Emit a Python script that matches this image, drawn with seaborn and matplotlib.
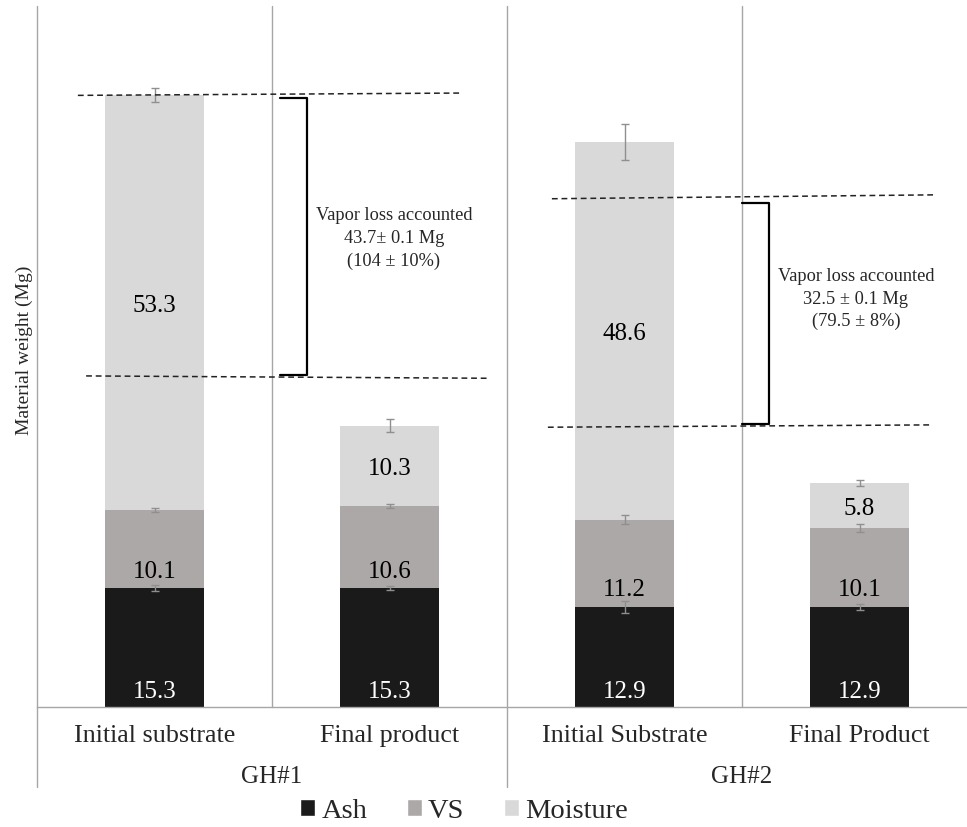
import matplotlib
matplotlib.use("Agg")
import matplotlib.pyplot as plt
import matplotlib.transforms as mtransforms
from matplotlib.patches import Patch
import numpy as np
import pandas as pd
import seaborn as sns

# Material balance per greenhouse (Mg)
samples = ["Initial substrate", "Final product", "Initial Substrate", "Final Product"]
groups = ["GH#1", "GH#2"]
ash = [15.3, 15.3, 12.9, 12.9]
vs = [10.1, 10.6, 11.2, 10.1]
moisture = [53.3, 10.3, 48.6, 5.8]
ash_err = [0.39, 0.28, 0.77, 0.37]
vs_err = [0.26, 0.24, 0.56, 0.5]
moisture_err = [0.9, 0.85, 2.3, 0.37]
vapor_notes = ["Vapor loss accounted\n43.7\u00b1 0.1 Mg\n(104 \u00b1 10%)",
               "Vapor loss accounted\n32.5 \u00b1 0.1 Mg\n(79.5 \u00b1 8%)"]

sns.set_theme(style="white")
plt.rcParams["font.family"] = ["Liberation Serif", "DejaVu Serif"]

C_ASH, C_VS, C_MOIST = "#1a1a1a", "#aca8a7", "#d9d9d9"
FRAME = "#a6a6a6"

df = pd.DataFrame({"sample": samples, "ash": ash, "vs": vs, "moisture": moisture})
df["ash_vs"] = df["ash"] + df["vs"]
df["total"] = df["ash_vs"] + df["moisture"]

W, H = 967, 828
fig = plt.figure(figsize=(W / 100, H / 100), dpi=100)
ax = fig.add_axes([37 / W, 120 / H, 940 / W, 701 / H])

bw = 0.4255
# stacked bars: draw cumulative heights from the top layer down
for col, c in [("total", C_MOIST), ("ash_vs", C_VS), ("ash", C_ASH)]:
    sns.barplot(data=df, x="sample", y=col, order=samples, color=c, width=bw,
                saturation=1, errorbar=None, linewidth=0, ax=ax)

xs = np.arange(len(samples))
for top, err in [(df["ash"], ash_err), (df["ash_vs"], vs_err), (df["total"], moisture_err)]:
    ax.errorbar(xs, top, yerr=err, fmt="none", ecolor="#8f8f8f", elinewidth=1.0,
                capsize=3.2, capthick=1.0, zorder=5)

ax.set_xlim(-0.5, 3.5)
ax.set_ylim(0, 90.2)
ax.set_xlabel("")
ax.set_ylabel("")
ax.set_yticks([])
ax.set_xticks([])
for s in ["top", "right", "left"]:
    ax.spines[s].set_visible(False)
ax.spines["bottom"].set_color(FRAME)
ax.spines["bottom"].set_linewidth(1.0)

# frame lines separating samples and greenhouses
trans = mtransforms.blended_transform_factory(ax.transData, ax.transAxes)
for xv, ylow in [(-0.5, -0.114), (0.5, 0.0), (1.5, -0.114), (2.5, 0.0)]:
    ax.plot([xv, xv], [ylow, 1.0], color=FRAME, lw=1.0, transform=trans,
            clip_on=False, zorder=1)

# value labels
for i in range(len(samples)):
    ax.annotate(f"{ash[i]:.1f}", (i, 0), xytext=(0, 7.2), textcoords="offset points",
                ha="center", va="baseline", color="white", fontsize=18)
    ax.annotate(f"{vs[i]:.1f}", (i, ash[i]), xytext=(0, 8.3), textcoords="offset points",
                ha="center", va="baseline", color="black", fontsize=18)
    mid = ash[i] + vs[i] + moisture[i] / 2
    ax.annotate(f"{moisture[i]:.1f}", (i, mid), xytext=(0, -6.1), textcoords="offset points",
                ha="center", va="baseline", color="black", fontsize=18)

# category and group labels
for i, s in enumerate(samples):
    ax.text(i, -0.0485, s, transform=trans, ha="center", va="baseline", fontsize=18.7)
for g, xv in zip(groups, [0.5, 2.5]):
    ax.text(xv, -0.107, g, transform=trans, ha="center", va="baseline", fontsize=18)

# vapor loss markers
dash = dict(color="#222222", lw=1.1, linestyle=(0, (3.8, 2.5)), clip_on=False, zorder=6)
ax.plot([-0.326, 1.309], [78.7, 79.0], **dash)
ax.plot([-0.291, 1.415], [42.6, 42.3], **dash)
ax.plot([1.691, 3.321], [65.4, 65.9], **dash)
ax.plot([1.674, 3.309], [36.0, 36.3], **dash)

brk = dict(color="black", lw=1.6, solid_joinstyle="round", solid_capstyle="round", zorder=7)
ax.plot([0.534, 0.649, 0.649, 0.534], [78.4, 78.4, 42.7, 42.7], **brk)
ax.plot([2.500, 2.615, 2.615, 2.500], [64.9, 64.9, 36.4, 36.4], **brk)

ax.text(1.019, 60.4, vapor_notes[0], ha="center", va="center", fontsize=13.2, linespacing=1.42)
ax.text(2.985, 52.6, vapor_notes[1], ha="center", va="center", fontsize=13.2, linespacing=1.42)

fig.text(24 / W, 1 - 350 / H, "Material weight (Mg)", rotation=90, ha="center",
         va="center", fontsize=14)

handles = [Patch(facecolor=C_ASH, label="Ash"), Patch(facecolor=C_VS, label="VS"),
           Patch(facecolor=C_MOIST, label="Moisture")]
fig.legend(handles=handles, loc="center", bbox_to_anchor=(464 / W, 1 - 812 / H),
           ncol=3, frameon=False, fontsize=20.5, handlelength=0.53, handleheight=0.53,
           handletextpad=0.22, columnspacing=1.38, borderpad=0)

fig.savefig("out.png", dpi=100)
